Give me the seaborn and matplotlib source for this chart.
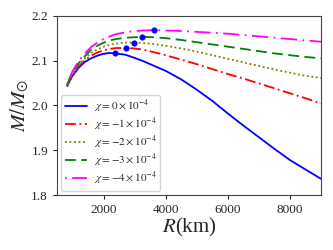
import matplotlib
matplotlib.use("Agg")
import matplotlib.pyplot as plt
import pandas as pd
import seaborn as sns

# Radius grid (km) shared by all curves
R_KM = [830, 900, 1000, 1200, 1400, 1600, 1800, 2000, 2200, 2400, 2700, 3000,
        3300, 3600, 4000, 4500, 5000, 5500, 6000, 6500, 7000, 7500, 8000, 8500, 9000]

M_CHI0 = [2.043, 2.053, 2.066, 2.084, 2.097, 2.105, 2.111, 2.115, 2.117, 2.116, 2.113, 2.106,
          2.098, 2.089, 2.077, 2.058, 2.035, 2.010, 1.982, 1.955, 1.929, 1.903, 1.878, 1.857, 1.836]
M_CHI1 = [2.044, 2.054, 2.068, 2.087, 2.101, 2.111, 2.118, 2.123, 2.126, 2.128, 2.128, 2.127,
          2.124, 2.119, 2.112, 2.102, 2.092, 2.081, 2.070, 2.060, 2.049, 2.038, 2.027, 2.016, 2.004]
M_CHI2 = [2.045, 2.056, 2.070, 2.090, 2.105, 2.117, 2.125, 2.131, 2.135, 2.138, 2.140, 2.140,
          2.139, 2.137, 2.133, 2.127, 2.120, 2.112, 2.104, 2.096, 2.088, 2.080, 2.073, 2.066, 2.061]
M_CHI3 = [2.046, 2.058, 2.073, 2.094, 2.110, 2.124, 2.133, 2.140, 2.145, 2.148, 2.151, 2.152,
          2.153, 2.152, 2.150, 2.146, 2.141, 2.136, 2.131, 2.126, 2.121, 2.116, 2.112, 2.108, 2.105]
M_CHI4 = [2.047, 2.060, 2.076, 2.099, 2.116, 2.130, 2.140, 2.148, 2.154, 2.159, 2.163, 2.166,
          2.167, 2.168, 2.167, 2.166, 2.164, 2.162, 2.160, 2.157, 2.154, 2.151, 2.148, 2.145, 2.142]

LABELS = [r"$\chi=0\times10^{-4}$", r"$\chi=-1\times10^{-4}$", r"$\chi=-2\times10^{-4}$",
          r"$\chi=-3\times10^{-4}$", r"$\chi=-4\times10^{-4}$"]

# Maximum-mass points marked on each curve
PEAK_R = [2355, 2710, 2968, 3248, 3613]
PEAK_M = [2.117, 2.128, 2.140, 2.153, 2.168]

sns.set_style("ticks")
plt.rcParams["font.family"] = ["Liberation Serif", "DejaVu Serif"]
plt.rcParams["mathtext.fontset"] = "stix"

fig = plt.figure(figsize=(3.33, 2.5), dpi=100)
ax = fig.add_axes([0.171, 0.22, 0.793, 0.717])

colors = ["blue", "red", "olive", "green", "magenta"]
dashes = ["-", (0, (6, 2, 1, 2)), (0, (1, 1.5)), (0, (6, 3)), (0, (1, 3, 9, 3))]

for m, lab, c, ls in zip([M_CHI0, M_CHI1, M_CHI2, M_CHI3, M_CHI4], LABELS, colors, dashes):
    df = pd.DataFrame({"R": R_KM, "M": m})
    sns.lineplot(data=df, x="R", y="M", ax=ax, color=c, linestyle=ls, lw=1.3, label=lab)

sns.scatterplot(x=PEAK_R, y=PEAK_M, ax=ax, color="blue", s=16, edgecolor="blue", zorder=5)

ax.set_xlim(500, 9000)
ax.set_ylim(1.8, 2.2)
ax.set_xticks([2000, 4000, 6000, 8000])
ax.set_yticks([1.8, 1.9, 2.0, 2.1, 2.2])
ax.tick_params(labelsize=9.5, length=3)
ax.set_xlabel(r"$R$(km)", fontsize=15, labelpad=0)
ax.set_ylabel(r"$M/M_{\odot}$", fontsize=15, labelpad=0)
for s in ax.spines.values():
    s.set_color("#444444")

ax.legend(loc="lower left", fontsize=8, handlelength=2.05, labelspacing=0.08,
          borderpad=0.3, handletextpad=0.6, borderaxespad=0.4, frameon=True)

fig.savefig("out.png", dpi=100)
